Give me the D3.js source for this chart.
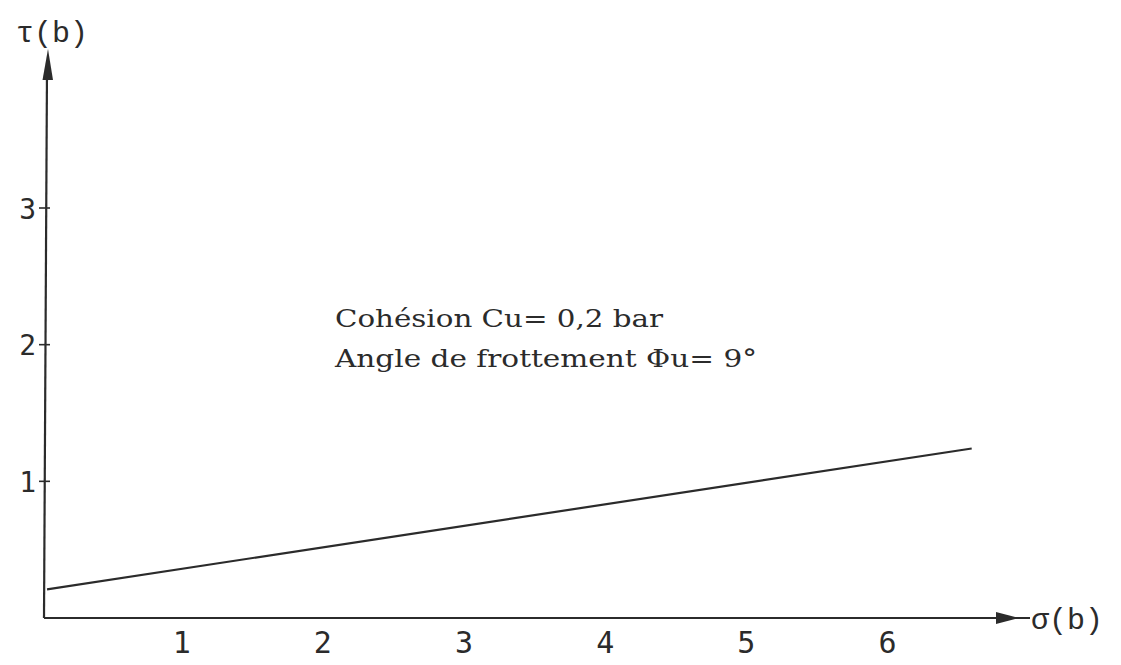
<!DOCTYPE html>
<html>
<head>
<meta charset="utf-8">
<script src="https://cdn.jsdelivr.net/npm/d3@7"></script>
<style>
  html, body { margin: 0; padding: 0; background: #ffffff; }
  svg { display: block; }
</style>
</head>
<body>
<svg id="chart" width="1121" height="665"></svg>
<script>
// Mohr-Coulomb failure envelope: normal stress sigma (bar) vs shear stress tau (bar)
const sigmaTicks = [1, 2, 3, 4, 5, 6];
const tauTicks = [1, 2, 3];
const envelopeSigma = [0.05, 6.6];
const envelopeTau = [0.21, 1.24];
const noteLines = ["Cohésion Cu= 0,2 bar", "Angle de frottement Φu= 9°"];
const xTitle = "σ(b)";
const yTitle = "τ(b)";

const ink = "#2b2b2b";
const svg = d3.select("#chart");

const x = d3.scaleLinear().domain([0, 6]).range([40, 887]);
const y = d3.scaleLinear().domain([0, 3]).range([618, 208]);

const axisX = 44; // position of the vertical axis line

// vertical axis with arrow
svg.append("line")
  .attr("x1", axisX).attr("y1", y(0))
  .attr("x2", axisX + 3).attr("y2", 70)
  .attr("stroke", ink).attr("stroke-width", 2.2);
svg.append("path")
  .attr("d", `M${axisX + 4},49 L${axisX - 1.5},80 L${axisX + 9},80 Z`)
  .attr("fill", ink);

// horizontal axis with arrow
svg.append("line")
  .attr("x1", axisX).attr("y1", y(0))
  .attr("x2", 1030).attr("y2", y(0))
  .attr("stroke", ink).attr("stroke-width", 2);
svg.append("path")
  .attr("d", `M996,${y(0) - 6} L1019,${y(0)} L996,${y(0) + 6} Z`)
  .attr("fill", ink);

// tau ticks and labels
const yAxis = d3.axisLeft(y).tickValues(tauTicks).tickSize(0).tickPadding(0)
  .tickFormat(d3.format("d"));
const gy = svg.append("g").attr("transform", `translate(${axisX - 8},0)`).call(yAxis);
gy.select(".domain").remove();
gy.selectAll("text")
  .attr("font-family", "'DejaVu Sans Mono', monospace")
  .attr("font-size", 28)
  .attr("fill", ink)
  .attr("dy", "0.36em");
svg.selectAll(".ytick").data(tauTicks).enter().append("line")
  .attr("class", "ytick")
  .attr("x1", axisX - 5).attr("x2", axisX + 6)
  .attr("y1", d => y(d)).attr("y2", d => y(d))
  .attr("stroke", ink).attr("stroke-width", 1.6);

// sigma labels
const xAxis = d3.axisBottom(x).tickValues(sigmaTicks).tickSize(0).tickPadding(0)
  .tickFormat(d3.format("d"));
const gx = svg.append("g").attr("transform", `translate(0,${y(0) + 8})`).call(xAxis);
gx.select(".domain").remove();
gx.selectAll("text")
  .attr("font-family", "'DejaVu Sans Mono', monospace")
  .attr("font-size", 30)
  .attr("fill", ink)
  .attr("dy", "0.9em");

// axis titles
svg.append("text")
  .attr("x", 16).attr("y", 42)
  .attr("font-family", "'Liberation Mono', 'Courier New', monospace")
  .attr("font-size", 30)
  .attr("fill", ink)
  .text(yTitle);
svg.append("text")
  .attr("x", 1031).attr("y", y(0) + 11)
  .attr("font-family", "'Liberation Mono', 'Courier New', monospace")
  .attr("font-size", 30)
  .attr("fill", ink)
  .text(xTitle);

// failure envelope
const pts = envelopeSigma.map((s, i) => [s, envelopeTau[i]]);
svg.append("path")
  .datum(pts)
  .attr("d", d3.line().x(d => x(d[0])).y(d => y(d[1])))
  .attr("fill", "none")
  .attr("stroke", ink)
  .attr("stroke-width", 2.2);

// parameters note
const note = svg.append("g");
const noteWidths = [328, 422];
noteLines.forEach((t, i) => {
  note.append("text")
    .attr("x", 335).attr("y", 327 + i * 40)
    .attr("font-family", "'DejaVu Serif', 'Liberation Serif', serif")
    .attr("font-size", 25)
    .attr("fill", ink)
    .attr("textLength", noteWidths[i])
    .attr("lengthAdjust", "spacingAndGlyphs")
    .text(t);
});
</script>
</body>
</html>
